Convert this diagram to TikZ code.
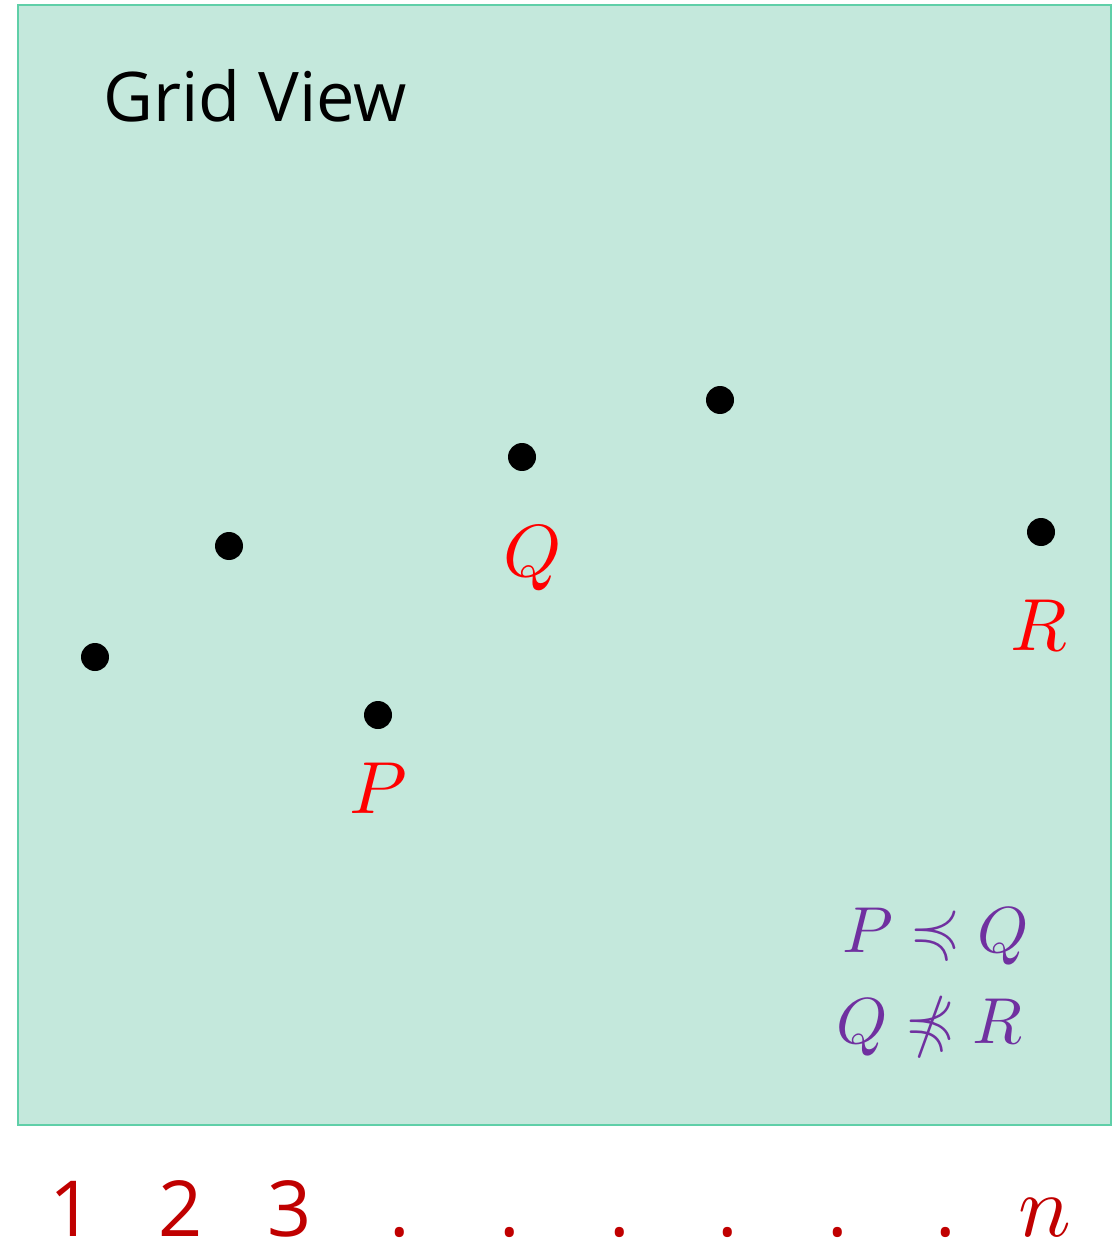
\documentclass[tikz,border=0pt]{standalone}
\usepackage{fontspec}
\usepackage{unicode-math}
\setmainfont{Open Sans}
\setmathfont{latinmodern-math.otf}
\usetikzlibrary{positioning}
\definecolor{GridFill}{HTML}{C4E8DC}
\definecolor{GridEdge}{HTML}{5FCFA8}
\definecolor{PtRed}{HTML}{FF0000}
\definecolor{AxisRed}{HTML}{C00000}
\definecolor{RelPurple}{HTML}{7030A0}
\tikzset{
  gdot/.style={circle,fill=black,inner sep=0pt,minimum size=0.56cm},
  ptlabel/.style={text=PtRed,inner sep=0pt,font=\fontsize{42}{50}\selectfont},
  rellabel/.style={text=RelPurple,inner sep=0pt,anchor=base,font=\fontsize{37}{44}\selectfont},
  axlabel/.style={text=AxisRed,inner sep=0pt,anchor=base,font=\fontsize{44}{52}\selectfont}
}

\begin{document}
\begin{tikzpicture}[x=0.02cm,y=-0.02cm]
    \useasboundingbox (0,0) rectangle (1115,1243);
    \draw[GridEdge,fill=GridFill,line width=1.2pt] (18,5) rectangle (1111,1125);
    \node[anchor=base west,inner sep=0pt,font=\fontsize{39}{46}\selectfont] (title) at (103,122) {Grid View};

    % points
    \foreach \name/\x/\y in {a/95/657,b/229/546,p/378/715,q/522/457,c/720/400,r/1041/532} {
      \node[gdot] (\name) at (\x,\y) {};
    }
    \node[ptlabel] (plab) at (378,788) {\(P\)};
    \node[ptlabel] (qlab) at (533,558) {\(Q\)};
    \node[ptlabel] (rlab) at (1039,626) {\(R\)};

    % relations
    \node[rellabel] (rel1) at (936,952) {\(P \preccurlyeq Q\)};
    \node[rellabel] (rel2) at (930,1043) {\(Q \npreccurlyeq R\)};

    % column indices
    \foreach \x/\lab in {72/1,181/2,290/3,400/.,510/.,620/.,728/.,838/.,946/.} {
      \node[axlabel] at (\x,1236) {\lab};
    }
    \node[axlabel,font=\fontsize{50}{58}\selectfont] (nlab) at (1045,1236) {\(n\)};
  \end{tikzpicture}
\end{document}
